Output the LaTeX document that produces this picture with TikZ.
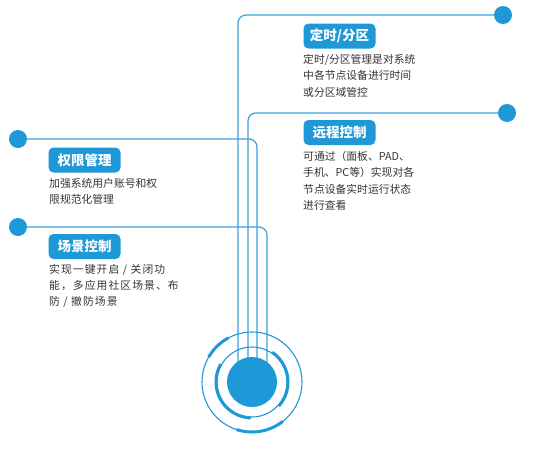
\documentclass[tikz,border=0pt]{standalone}
\usepackage{fontspec}
\setmainfont{Noto Sans CJK SC}
\newfontfamily\cjk{Noto Sans CJK SC}
\newfontfamily\cjkspaced[LetterSpace=10]{Noto Sans CJK SC}
\definecolor{blu}{HTML}{1E98D6}
\definecolor{lineblu}{HTML}{3A9FDB}
\definecolor{txt}{HTML}{333333}
\begin{document}
\begin{tikzpicture}[x=1pt,y=-1pt,
  dot/.style={circle,fill=blu,minimum size=18pt,inner sep=0},
  conn/.style={draw=lineblu,line width=1.2pt,rounded corners=8pt},
  tag/.style={fill=blu,text=white,rounded corners=5pt,minimum width=72pt,minimum height=25pt,inner sep=0,font=\cjk\bfseries\fontsize{13.5}{15}\selectfont},
  body/.style={text=txt,align=left,inner sep=0,anchor=north west,font=\cjk\fontsize{10.8}{16.5}\selectfont},
  ring/.style={draw=blu,line width=1.1pt},
  thickarc/.style={draw=blu,line width=3pt}]
\useasboundingbox (0,0) rectangle (545,471);
% dots
\node[dot] (d1) at (503,15) {};
\node[dot] (d2) at (507,113) {};
\node[dot] (d3) at (18,139) {};
\node[dot] (d4) at (18,227) {};
% ends of connectors
\coordinate (e1) at (238,382);
\coordinate (e2) at (248,382);
\coordinate (e3) at (257,382);
\coordinate (e4) at (267,382);
\draw[conn] (d1.west) -| (e1);
\draw[conn] (d2.west) -| (e2);
\draw[conn] (d3.east) -| (e3);
\draw[conn] (d4.east) -| (e4);
% rings
\begin{scope}[shift={(252,382)},yscale=-1]
  \draw[ring] (0,0) circle (50);
  \draw[ring] (0,0) circle (35);
  \draw[thickarc] (118:50) arc[start angle=118,end angle=150,radius=50];
  \draw[thickarc] (252:50) arc[start angle=252,end angle=308,radius=50];
  \draw[thickarc] (150:36) arc[start angle=150,end angle=268,radius=36];
  \draw[thickarc] (56:36) arc[start angle=56,end angle=-42,radius=36];
  \fill[blu] (0,0) circle (25);
\end{scope}
% tags
\node[tag] (t1) at (339.5,36) {定时/分区};
\node[tag] (t2) at (339.5,132.5) {远程控制};
\node[tag] (t3) at (84.5,160) {权限管理};
\node[tag] (t4) at (84.5,246.5) {场景控制};
% bodies
\node[body] (b1) at (303,54) {定时/分区管理是对系统\\中各节点设备进行时间\\或分区域管控};
\node[body] (b2) at (303,151) {可通过（面板、PAD、\\手机、PC等）实现对各\\节点设备实时运行状态\\进行查看};
\node[body] (b3) at (49,178) {加强系统用户账号和权\\限规范化管理};
\node[body,font=\cjkspaced\fontsize{10.8}{16}\selectfont] (b4) at (49,264) {实现一键开启 / 关闭功\\能，多应用社区场景、布\\防 / 撤防场景};
\end{tikzpicture}
\end{document}
